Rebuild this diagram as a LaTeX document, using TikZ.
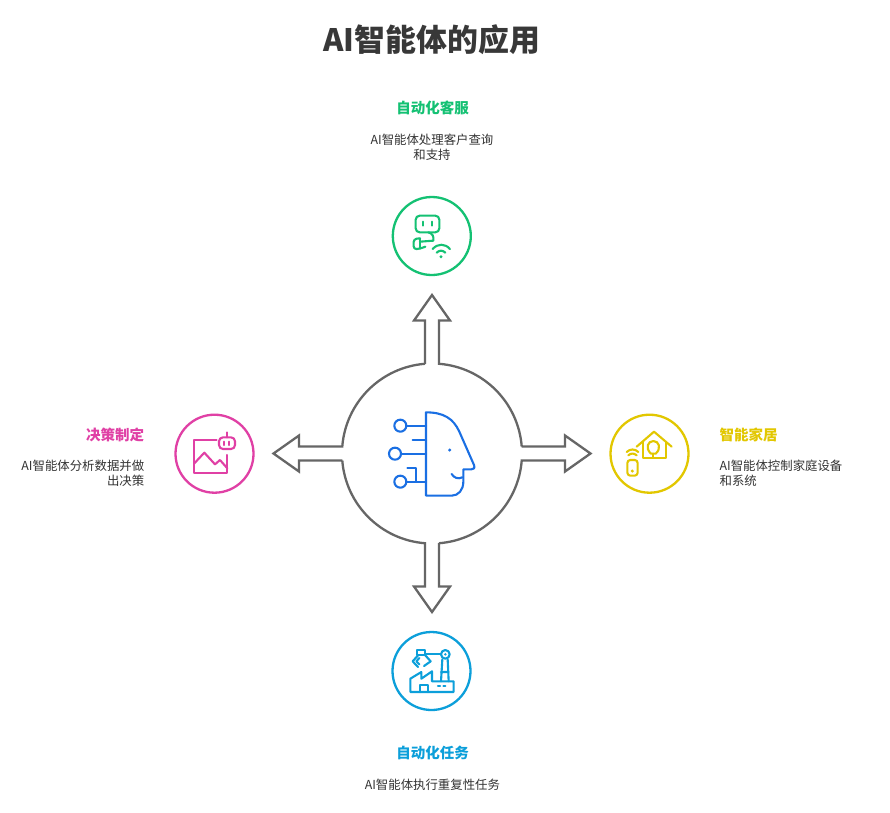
\documentclass[tikz,border=0pt]{standalone}
\usepackage{fontspec}
\setmainfont{Noto Sans CJK SC}
\definecolor{robotgreen}{HTML}{14C173}
\definecolor{chartpink}{HTML}{E040A5}
\definecolor{homeyellow}{HTML}{E2C700}
\definecolor{factoryblue}{HTML}{0C9FDA}
\definecolor{headblue}{HTML}{1A6FE3}
\definecolor{armgray}{HTML}{666666}
\definecolor{inktext}{HTML}{333333}
\tikzset{
  armline/.style={draw=armgray,line width=2.3pt,line join=miter},
  ring/.style={circle,draw=#1,line width=2.3pt,minimum size=78pt,inner sep=0pt},
  icon/.style={draw=#1,line width=2.1pt,line cap=round,line join=round},
  headtext/.style={text=#1,font=\fontsize{14.5}{18}\selectfont\bfseries},
  desctext/.style={text=inktext,font=\fontsize{12.4}{15}\selectfont,inner sep=0pt}
}
\begin{document}
\begin{tikzpicture}[x=1pt,y=-1pt]
  \useasboundingbox (0,0) rectangle (890,812);
  \fill[white] (0,0) rectangle (890,812);
  \node[text=black!78,font=\fontsize{30.9}{36}\selectfont\bfseries] (title) at (431.7,40) {AI智能体的应用};

  \coordinate (hub) at (432,453.5);
  \foreach \a in {0,90,180,270}
    \draw[armline,shift={(hub)},rotate=\a] (-4.46:90) -- (133,-7) -- (133,-18) -- (158.5,0)
      -- (133,18) -- (133,7) -- (4.46:90) arc[start angle=4.46,end angle=85.54,radius=90];

  \node[ring=robotgreen] (robot) at (431.8,236) {};
  \node[ring=chartpink] (chart) at (214.5,453.7) {};
  \node[ring=homeyellow] (home) at (649.5,453.7) {};
  \node[ring=factoryblue] (factory) at (431.5,671) {};

  \node[headtext=robotgreen] (robothead) at (432.5,107.5) {自动化客服};
  \node[desctext,align=center] (robotdesc) at (432,147.2) {AI智能体处理客户查询\\和支持};
  \node[headtext=chartpink,anchor=east,inner sep=0pt] (charthead) at (144.4,435) {决策制定};
  \node[desctext,align=right,anchor=east] (chartdesc) at (144.4,473.2) {AI智能体分析数据并做\\出决策};
  \node[headtext=homeyellow,anchor=west,inner sep=0pt] (homehead) at (719.4,435) {智能家居};
  \node[desctext,align=left,anchor=west] (homedesc) at (719.4,473.2) {AI智能体控制家庭设备\\和系统};
  \node[headtext=factoryblue] (factoryhead) at (432.5,752.5) {自动化任务};
  \node[desctext] (factorydesc) at (432.4,784.7) {AI智能体执行重复性任务};

  \begin{scope}[shift={(340,360)},scale=1/3,icon=headblue]
    \draw (258,157) .. controls (310,157) and (340,175) .. (358,215) -- (402,315)
      .. controls (406,325) and (400,328) .. (394,328) -- (370,328) -- (370,365)
      .. controls (370,390) and (355,407) .. (335,407) -- (258,407) -- cycle;
    \draw (335,342) .. controls (342,354) and (355,358) .. (367,352);
    \fill[headblue] (329,270) circle[radius=5];
    \draw (181,197) circle[radius=18] (165,281) circle[radius=18] (181,365) circle[radius=18];
    \draw (199,197) -- (258,197) (183,281) -- (258,281) (199,365) -- (258,365);
    \draw (218,240) -- (258,240) (202,325) -- (228,325) -- (228,365);
  \end{scope}

  \begin{scope}[shift={(370,190)},scale=1/3,icon=robotgreen]
    \draw[rounded corners=4pt] (137,77) rectangle (208,127);
    \draw (160,95) -- (160,107) (185,95) -- (185,107);
    \draw (175,127) .. controls (188,130) and (192,140) .. (190,152) -- (150,155);
    \draw[rounded corners=3pt] (150,145) -- (131,147) -- (131,178) -- (150,176) -- (166,170);
    \draw (150,145) -- (150,176);
    \draw (188,177) .. controls (203,160) and (225,160) .. (240,177);
    \draw (200,188) .. controls (208,180) and (218,180) .. (226,188);
    \fill[robotgreen] (213,200) circle[radius=5];
  \end{scope}

  \begin{scope}[shift={(165,405)},scale=1/3,icon=chartpink]
    \draw (155,105) -- (88,105) -- (88,205) -- (187,205) -- (187,150);
    \draw (88,175) -- (118,143) -- (150,178) -- (165,165) -- (187,190);
    \draw[rounded corners=4pt] (162,97) rectangle (210,132);
    \draw (186,97) -- (186,82);
    \draw (178,110) -- (178,120) (192,110) -- (192,120);
  \end{scope}

  \begin{scope}[shift={(600,405)},scale=1/3,icon=homeyellow]
    \draw (110,125) -- (162,80) -- (215,125);
    \draw (128,112) -- (128,160) -- (197,160) -- (197,112);
    \draw (153,146) .. controls (135,130) and (143,108) .. (160,108)
      .. controls (177,108) and (185,130) .. (167,146) -- cycle;
    \draw (160,146) -- (160,157);
    \draw[rounded corners=3pt] (82,165) rectangle (113,212);
    \fill[homeyellow] (97,198) circle[radius=5];
    \draw (85,151) .. controls (92,144) and (102,144) .. (110,151);
    \draw (80,141) .. controls (90,131) and (105,131) .. (115,141);
  \end{scope}

  \begin{scope}[shift={(382,622)},scale=1/3,icon=factoryblue]
    \draw (85,170) -- (118,150) -- (118,170) -- (150,148) -- (150,178) -- (215,178)
      -- (215,210) -- (85,210) -- cycle;
    \draw (113,210) -- (113,190) -- (137,190) -- (137,210);
    \draw (168,192) -- (174,192) (184,192) -- (190,192);
    \draw (177,178) -- (181,112) (200,178) -- (197,112) (177,150) -- (200,150);
    \draw (190,97) circle[radius=13];
    \fill[factoryblue] (190,97) circle[radius=4];
    \draw (130,97) -- (177,97);
    \draw (106,83) rectangle (130,100);
    \draw (108,100) -- (92,118) -- (108,135);
    \draw (130,100) -- (146,118) -- (126,132);
    \draw (112,108) -- (103,118) -- (112,127);
  \end{scope}
\end{tikzpicture}
\end{document}
